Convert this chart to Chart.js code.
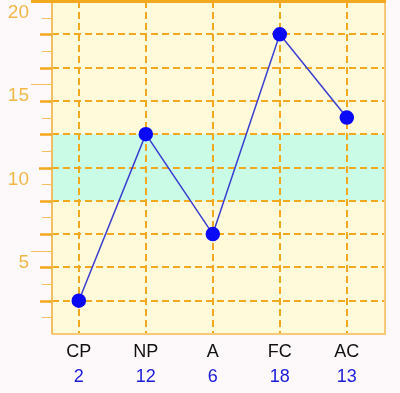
<!DOCTYPE html>
<html>
<head>
<meta charset="utf-8">
<script src="https://cdn.jsdelivr.net/npm/chart.js@4.4.1/dist/chart.umd.min.js"></script>
<style>
  html, body { margin: 0; padding: 0; background: #fdf8fa; }
  #wrap { width: 400px; height: 393px; }
</style>
</head>
<body>
<div id="wrap"><canvas id="chart"></canvas></div>
<script>
const categories = ['CP', 'NP', 'A', 'FC', 'AC'];
const values = [2, 12, 6, 18, 13];
const yLabels = [5, 10, 15, 20];
const band = [8, 12];

const orange = '#f2a91e';

// plot background, cyan band, borders and tick marks
const decor = {
  id: 'decor',
  beforeDraw(chart) {
    const { ctx, chartArea: a, scales } = chart;
    const y = scales.y;
    ctx.save();
    ctx.fillStyle = '#fffad9';
    ctx.fillRect(a.left, a.top, a.right - a.left, a.bottom - a.top);
    ctx.fillStyle = '#c9fbe6';
    const y1 = y.getPixelForValue(band[1]), y0 = y.getPixelForValue(band[0]);
    ctx.fillRect(a.left, y1, a.right - a.left, y0 - y1);
    ctx.restore();
  },
  beforeDatasetsDraw(chart) {
    const { ctx, chartArea: a, scales } = chart;
    const y = scales.y;
    ctx.save();
    ctx.strokeStyle = '#f7c878';
    ctx.lineWidth = 2;
    ctx.beginPath();
    ctx.moveTo(a.right, a.top); ctx.lineTo(a.right, a.bottom);
    ctx.lineTo(a.left, a.bottom);
    ctx.stroke();
    ctx.strokeStyle = '#f5bd62';
    ctx.beginPath();
    ctx.moveTo(a.left, a.top); ctx.lineTo(a.left, a.bottom);
    ctx.stroke();
    ctx.strokeStyle = orange;
    ctx.lineWidth = 3;
    ctx.beginPath();
    ctx.moveTo(31, a.top + 0.5); ctx.lineTo(a.right + 1, a.top + 0.5);
    ctx.stroke();
    for (let v = 1; v < 20; v++) {
      const py = Math.round(y.getPixelForValue(v)) + 0.5;
      let len = 10, w = 1;
      if (v % 2 === 0) { len = 12; w = 2.5; }
      if (v % 5 === 0) { len = v % 2 === 0 ? 13 : 21; }
      ctx.lineWidth = w;
      ctx.strokeStyle = v % 2 === 0 ? orange : '#f5be5c';
      ctx.beginPath();
      ctx.moveTo(a.left - len, py); ctx.lineTo(a.left, py);
      ctx.stroke();
    }
    ctx.restore();
  }
};

const noPad = s => { s.paddingTop = 0; s.paddingBottom = 0; s.paddingLeft = 0; s.paddingRight = 0; };

new Chart(document.getElementById('chart'), {
  type: 'line',
  data: {
    datasets: [{
      data: values.map((v, i) => ({ x: i + 1, y: v })),
      borderColor: '#3a3ed0',
      borderWidth: 1.5,
      pointBackgroundColor: '#0a0af5',
      pointBorderColor: '#0a0af5',
      pointRadius: 6.5,
      tension: 0
    }]
  },
  options: {
    responsive: true,
    maintainAspectRatio: false,
    animation: false,
    layout: { autoPadding: false, padding: { top: 1, right: 15, left: 0, bottom: 0 } },
    plugins: { legend: { display: false }, tooltip: { enabled: false } },
    scales: {
      x: {
        type: 'linear',
        position: 'bottom',
        min: 0.6,
        max: 5.57,
        afterBuildTicks: s => { s.ticks = categories.map((c, i) => ({ value: i + 1 })); },
        afterFit: s => { s.height = 30; noPad(s); },
        grid: {
          color: orange,
          lineWidth: 2,
          drawTicks: false
        },
        border: { display: false, dash: [7, 4] },
        ticks: {
          color: '#111',
          padding: 7,
          autoSkip: false,
          maxRotation: 0,
          font: { family: 'Liberation Sans', size: 18 },
          callback: v => categories[v - 1]
        }
      },
      x2: {
        type: 'linear',
        position: 'bottom',
        min: 0.6,
        max: 5.57,
        afterBuildTicks: s => { s.ticks = values.map((c, i) => ({ value: i + 1 })); },
        afterFit: s => { s.height = 29; noPad(s); },
        grid: { display: false, drawTicks: false },
        border: { display: false },
        ticks: {
          color: '#1a1ad8',
          padding: 2,
          autoSkip: false,
          maxRotation: 0,
          font: { family: 'Liberation Sans', size: 18 },
          callback: v => values[v - 1]
        }
      },
      y: {
        min: 0,
        max: 20,
        afterBuildTicks: s => {
          const t = [];
          for (let v = 0; v <= 20; v++) t.push({ value: v });
          s.ticks = t;
        },
        afterFit: s => { s.width = 52; noPad(s); },
        grid: {
          drawTicks: false,
          lineWidth: 2,
          color: c => (c.tick.value % 2 === 0 && c.tick.value > 0 && c.tick.value < 20) ? orange : 'rgba(0,0,0,0)'
        },
        border: { display: false, dash: [7, 4] },
        ticks: {
          color: '#f0b848',
          padding: 23,
          labelOffset: 12,
          autoSkip: false,
          font: { family: 'Liberation Sans', size: 19 },
          callback: v => yLabels.includes(v) ? String(v) : ''
        }
      }
    }
  },
  plugins: [decor]
});
</script>
</body>
</html>
